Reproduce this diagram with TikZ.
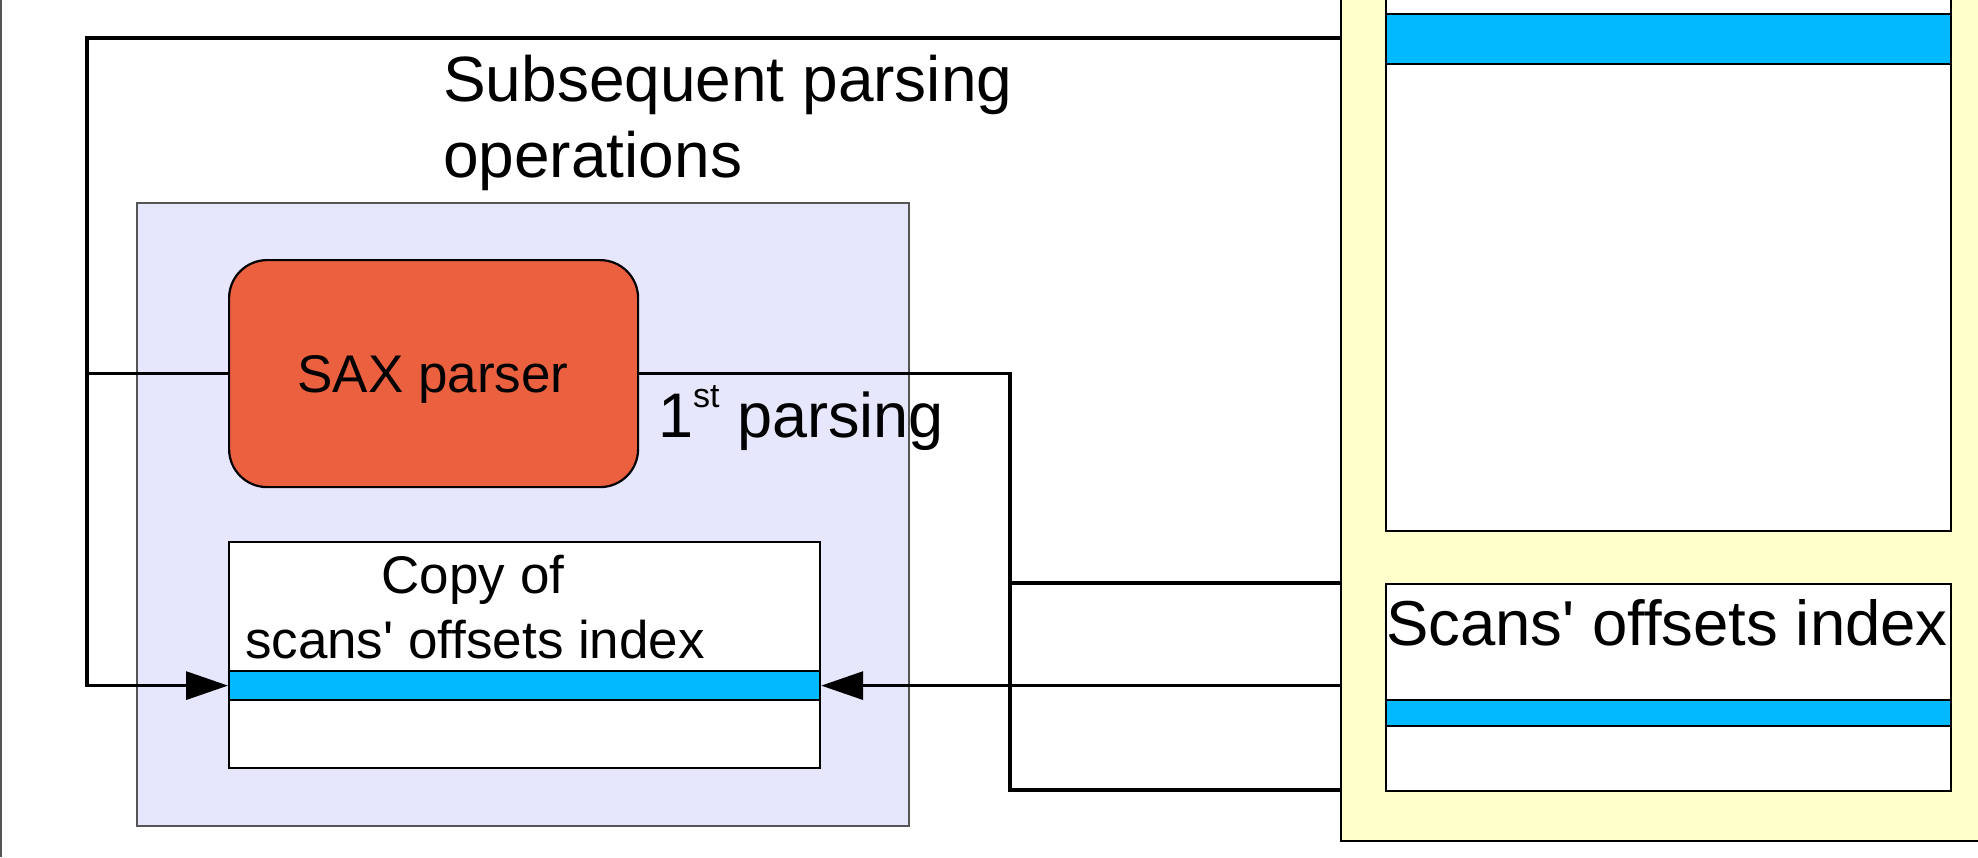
\documentclass[tikz,border=0pt]{standalone}
\usepackage{fontspec}
\setmainfont{Liberation Sans}
\usetikzlibrary{arrows.meta}
\definecolor{lavender}{HTML}{E6E6FC}
\definecolor{saxred}{HTML}{EB613F}
\definecolor{barblue}{HTML}{00B9FF}
\definecolor{paleyellow}{HTML}{FFFFCC}
\definecolor{edgegray}{HTML}{555555}

\begin{document}
\begin{tikzpicture}[x=1pt,y=-1pt,
  box/.style={draw=black, line width=2.2pt, inner sep=0pt, anchor=north west},
  wire/.style={draw=black, line width=3.2pt},
  tip/.style={-{Triangle[length=42pt,width=28pt]}},
  big/.style={font=\fontsize{64}{76}\selectfont, inner sep=0pt},
  mid/.style={font=\fontsize{53}{65}\selectfont, inner sep=0pt}]

\useasboundingbox (0,0) rectangle (1978,857);
\fill[white] (0,0) rectangle (1978,857);
\draw[edgegray, line width=1.6pt] (1,0) -- (1,857);

% parser process
\node[box, draw=edgegray, fill=lavender, minimum width=772pt, minimum height=623pt] (proc) at (136,202) {};
\node[box, fill=saxred, rounded corners=38pt, minimum width=409pt, minimum height=227pt] (sax) at (228,259) {};
\node[mid, anchor=base] (saxlabel) at (433,392) {SAX parser};

% local copy of the index
\node[box, fill=white, minimum width=591pt, minimum height=226pt] (copy) at (228,541) {};
\node[box, fill=barblue, minimum width=591pt, minimum height=29pt] (copybar) at (228,670) {};
\node[mid, anchor=base] (copyl1) at (473,593) {Copy of};
\node[mid, anchor=base] (copyl2) at (475,658) {scans\textquotesingle{} offsets index};

% data store
\node[box, fill=paleyellow, minimum width=700pt, minimum height=860pt] (store) at (1340,-20) {};
\node[box, fill=white, minimum width=565pt, minimum height=550pt] (data) at (1385,-20) {};
\node[box, fill=barblue, minimum width=565pt, minimum height=50pt] (databar) at (1385,13) {};
\node[box, fill=white, minimum width=565pt, minimum height=207pt] (index) at (1385,583) {};
\node[box, fill=barblue, minimum width=565pt, minimum height=26pt] (indexbar) at (1385,699) {};
\node[big, anchor=base west, font=\fontsize{63.5}{76}\selectfont] (indexlabel) at (1386,645) {Scans\textquotesingle{} offsets index};

% routing points
\coordinate (loop) at (87,38);
\coordinate (bend) at (1010,790);

% subsequent parsing loop
\draw[wire, tip] (store.west |- loop) -- (loop) -- (loop |- copybar.west) -- (copybar.west);
\draw[wire] (sax.west) -- (sax.west -| loop);

% first parsing
\draw[wire] (sax.east) -- (sax.east -| bend) -- (bend) -- (store.west |- bend);
\draw[wire] (bend |- index.north) -- (store.west |- index.north);

% index copy
\draw[wire, tip] (store.west |- copybar.east) -- (copybar.east);

% labels
\node[big, anchor=base west] (subl1) at (443,101) {Subsequent parsing};
\node[big, anchor=base west] (subl2) at (443,177) {operations};
\node[big, anchor=base west, font=\fontsize{63}{76}\selectfont] (first) at (658,437)
  {1\raisebox{30pt}{\fontsize{34}{40}\selectfont st} parsing};
\end{tikzpicture}
\end{document}
